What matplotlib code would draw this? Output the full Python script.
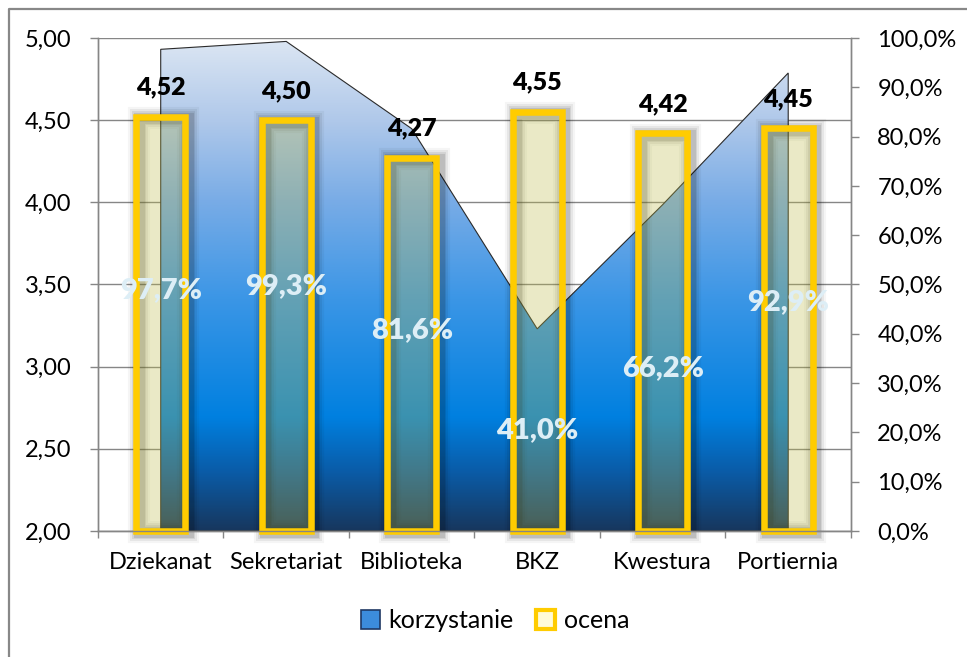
import numpy as np
import matplotlib
matplotlib.use("Agg")
import matplotlib.pyplot as plt
import matplotlib.patheffects as pe
from matplotlib.colors import LinearSegmentedColormap
from matplotlib.patches import Patch
from matplotlib.lines import Line2D

plt.rcParams["font.family"] = ["Lato", "DejaVu Sans"]

categories = ["Dziekanat", "Sekretariat", "Biblioteka", "BKZ", "Kwestura", "Portiernia"]
korzystanie = [97.7, 99.3, 81.6, 41.0, 66.2, 92.9]  # % of respondents using the unit
ocena = [4.52, 4.50, 4.27, 4.55, 4.42, 4.45]  # mean rating
left_ticks = [2.0, 2.5, 3.0, 3.5, 4.0, 4.5, 5.0]
right_ticks = list(range(0, 101, 10))

x = np.arange(len(categories))
pct = np.array(korzystanie)
grey = "#868686"

fig = plt.figure(figsize=(9.67, 6.57), dpi=100)
ax = fig.add_axes([0.1013, 0.1918, 0.7787, 0.7504])
ax2 = ax.twinx()

# gridlines behind everything
ax.set_axisbelow(True)
ax.yaxis.grid(True, color=grey, linewidth=1.0)

# area series: y in axes fraction equals the 0-100% right scale
xs = np.r_[x[0], x, x[-1]]
ys = np.r_[0, pct / 100, 0]
poly = ax.fill(xs, ys, transform=ax.get_xaxis_transform(),
               facecolor="none", edgecolor="#2a2a2a", linewidth=0.8, zorder=1.6)[0]

ocean = LinearSegmentedColormap.from_list("ocean_fill", [
    (0.00, "#17375E"),
    (0.12, "#0A5CA8"),
    (0.23, "#0080E0"),
    (0.47, "#3B96E6"),
    (0.67, "#79ACE6"),
    (0.83, "#AFC8EA"),
    (1.00, "#DDE7F3"),
])
grad = np.linspace(0, 1, 256).reshape(-1, 1)
img = ax.imshow(grad, extent=(x[0], x[-1], 2, 5), origin="lower",
                aspect="auto", cmap=ocean, zorder=1.5, interpolation="bilinear")
img.set_clip_path(poly)

# bars: soft shadow first, then translucent fill with thick yellow frame
bw = 0.39
bottoms = np.full(len(ocena), 2.0)
heights = np.array(ocena) - 2.0
shadow = ax.bar(x, heights, bw, bottom=bottoms, facecolor="none",
                edgecolor="none", zorder=2.5, clip_on=False)
for b in shadow:
    b.set_path_effects([
        pe.Stroke(linewidth=lw, foreground="#000000", alpha=a, offset=(2, -1))
        for lw, a in [(16, 0.04), (13, 0.06), (10, 0.08), (8, 0.1)]
    ])
ax.bar(x, heights, bw, bottom=bottoms, facecolor=(190 / 255, 187 / 255, 71 / 255, 0.31),
       edgecolor="#FFCC00", linewidth=4.7, zorder=3, clip_on=False)

for xi, v in zip(x, ocena):
    ax.annotate(f"{v:.2f}".replace(".", ","), (xi, v), xytext=(0, 21),
                textcoords="offset points", ha="center", va="center",
                fontsize=18, fontweight="heavy", color="black", zorder=5)

for xi, p in zip(x, pct):
    ax.text(xi, p / 200, f"{p:.1f}%".replace(".", ","), transform=ax.get_xaxis_transform(),
            ha="center", va="center", fontsize=21, fontweight="heavy",
            color="#DDEEF6", zorder=5)

# axes and ticks
ax.set_xlim(-0.5, len(categories) - 0.5)
ax.set_ylim(2, 5)
ax2.set_ylim(0, 100)
ax.set_yticks(left_ticks)
ax.set_yticklabels([f"{t:.2f}".replace(".", ",") for t in left_ticks])
ax2.set_yticks(right_ticks)
ax2.set_yticklabels([f"{t:.1f}%".replace(".", ",") for t in right_ticks])
ax.set_xticks(x)
ax.set_xticklabels(categories)
ax.set_xticks(np.arange(len(categories) + 1) - 0.5, minor=True)

ax.tick_params(axis="y", length=6, width=1, color=grey, pad=13, labelsize=17)
ax2.tick_params(axis="y", length=6, width=1, color=grey, pad=13, labelsize=17)
ax.tick_params(axis="x", which="major", length=0, pad=15, labelsize=17)
ax.tick_params(axis="x", which="minor", length=5, width=1, color=grey)

for a in (ax, ax2):
    a.spines["top"].set_visible(False)
    for side in ("left", "right", "bottom"):
        a.spines[side].set_color(grey)
        a.spines[side].set_linewidth(1)

handles = [
    Patch(facecolor="#3C8CDC", edgecolor="#1F3864", linewidth=1.2, label="korzystanie"),
    Patch(facecolor="#FFFBD8", edgecolor="#FFCC00", linewidth=3, label="ocena"),
]
fig.legend(handles=handles, loc="center", bbox_to_anchor=(0.512, 0.055), ncol=2,
           frameon=False, fontsize=18, handlelength=0.75, handleheight=0.75,
           handletextpad=0.35, columnspacing=0.9)

# outer chart frame (left and top edges)
fx = 8.5 / 967
fy = 1 - 9 / 657
fig.add_artist(Line2D([fx, fx, 1.0], [0.0, fy, fy], transform=fig.transFigure,
                      color="#888888", linewidth=1.6))

fig.savefig("out.png", dpi=100)
